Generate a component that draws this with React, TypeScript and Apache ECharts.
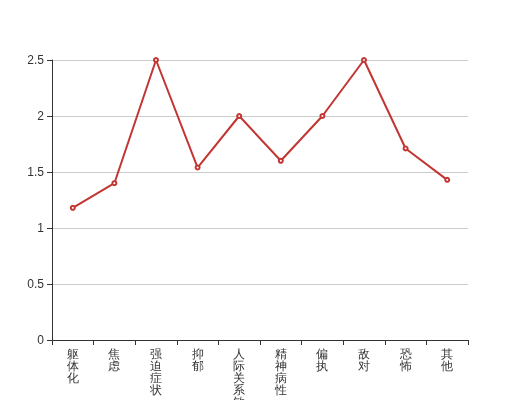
import React, { useEffect, useRef } from "react";
import * as echarts from "echarts";

const categories = ["躯体化", "焦虑", "强迫症状", "抑郁", "人际关系敏感", "精神病性", "偏执", "敌对", "恐怖", "其他"];
const values = [1.18, 1.4, 2.5, 1.54, 2.0, 1.6, 2.0, 2.5, 1.71, 1.43];

export default function App() {
  const ref = useRef<HTMLDivElement>(null);
  useEffect(() => {
    const chart = echarts.init(ref.current!, null, { renderer: "svg" });
    chart.setOption({
      animation: false,
      grid: { left: 52, right: 52, top: 60, bottom: 60, containLabel: false, outerBoundsMode: "none" },
      xAxis: {
        type: "category",
        data: categories,
        boundaryGap: true,
        axisLine: { lineStyle: { color: "#333" } },
        axisTick: { show: true, interval: 0, lineStyle: { color: "#333" } },
        axisLabel: {
          color: "#333",
          fontSize: 12,
          interval: 0,
          lineHeight: 12,
          formatter: (v: string) => v.split("").join("\n"),
        },
      },
      yAxis: {
        type: "value",
        min: 0,
        max: 2.5,
        interval: 0.5,
        axisLine: { show: true, lineStyle: { color: "#333" } },
        axisTick: { show: true, lineStyle: { color: "#333" } },
        axisLabel: { color: "#333", fontSize: 12 },
        splitLine: { lineStyle: { color: "#ccc" } },
      },
      series: [
        {
          type: "line",
          data: values,
          symbol: "emptyCircle",
          symbolSize: 4,
          itemStyle: { color: "#c23531" },
          lineStyle: { color: "#c23531", width: 2 },
        },
      ],
    });
    return () => chart.dispose();
  }, []);
  return <div ref={ref} style={{ position: "fixed", left: 0, top: 0, width: 520, height: 400 }} />;
}
